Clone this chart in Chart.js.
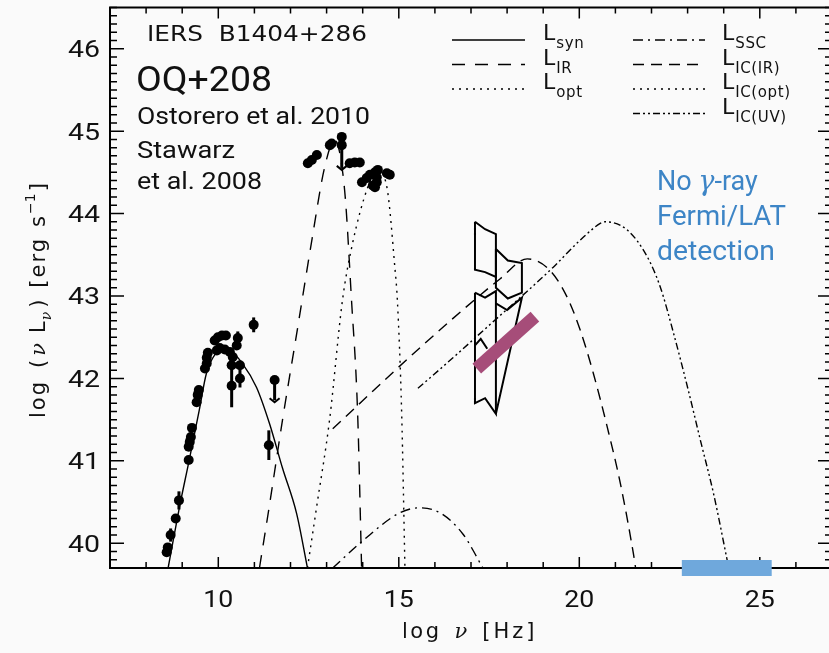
<!DOCTYPE html>
<html>
<head>
<meta charset="utf-8">
<script src="https://cdn.jsdelivr.net/npm/chart.js@4.4.1/dist/chart.umd.min.js"></script>
<style>
  html, body { margin: 0; padding: 0; background: #fafafa; overflow: hidden; width: 829px; height: 653px; }
</style>
</head>
<body>
<canvas id="sed" width="840" height="653"></canvas>
<script>
// observed photometry: log nu [Hz], log nuLnu [erg/s], error (0 = none)
var obsNu  = [8.57, 8.60, 8.68, 8.82, 8.91, 9.18, 9.18, 9.21, 9.24, 9.27, 9.40, 9.43, 9.46, 9.63, 9.68, 9.68, 9.71,
              9.90, 9.99, 10.10, 10.21, 9.96, 10.04, 10.18, 10.32, 10.40, 10.54, 10.51, 10.37, 10.37, 10.60, 10.60, 10.98, 11.40,
              12.48, 12.59, 12.73, 13.09, 13.14, 13.42, 13.64, 13.78, 13.92, 13.98, 14.11, 14.20, 14.34, 14.39, 14.39, 14.42,
              14.28, 14.34, 14.67, 14.75];
var obsLum = [39.89, 39.95, 40.10, 40.30, 40.52, 41.01, 41.17, 41.23, 41.29, 41.40, 41.71, 41.80, 41.86, 42.12, 42.18, 42.25, 42.31,
              42.46, 42.50, 42.52, 42.52, 42.34, 42.37, 42.35, 42.32, 42.26, 42.49, 42.40, 42.16, 41.91, 42.16, 42.00, 42.65, 41.19,
              44.61, 44.65, 44.71, 44.83, 44.85, 44.83, 44.61, 44.62, 44.62, 44.38, 44.43, 44.47, 44.50, 44.44, 44.38, 44.53,
              44.34, 44.32, 44.49, 44.47];
var obsErr = [0, 0, 0.08, 0, 0.11, 0, 0, 0, 0, 0, 0, 0, 0, 0, 0, 0, 0,
              0, 0, 0, 0, 0, 0, 0, 0, 0, 0.08, 0, 0, 0.26, 0, 0.11, 0.09, 0.18,
              0, 0, 0, 0, 0, 0, 0, 0, 0, 0.05, 0, 0, 0, 0, 0, 0,
              0, 0, 0, 0];

// upper limits (arrow runs from the value down to limEnd)
var limNu  = [13.42, 11.56];
var limLum = [44.93, 41.98];
var limEnd = [44.53, 41.71];

// model components
var synNu  = [8.61, 8.92, 9.19, 9.47, 9.67, 9.94, 10.10, 10.31, 10.67, 11.06, 11.42, 11.78, 12.17, 12.47];
var synLum = [39.70, 40.43, 41.00, 41.61, 42.06, 42.31, 42.35, 42.34, 42.18, 41.89, 41.45, 40.91, 40.36, 39.70];
var irNu   = [11.14, 11.42, 11.78, 12.20, 12.60, 12.94, 13.22, 13.50, 13.69, 13.86, 13.97];
var irLum  = [39.70, 40.47, 41.50, 42.62, 43.70, 44.55, 44.89, 44.28, 42.95, 41.57, 39.70];
var optNu  = [12.47, 12.72, 13.08, 13.44, 13.72, 14.14, 14.39, 14.67, 14.89, 14.96, 15.08, 15.17];
var optLum = [39.70, 40.43, 41.49, 42.95, 43.64, 44.32, 44.53, 44.32, 43.35, 42.95, 41.57, 39.70];
var sscNu  = [13.17, 14.00, 15.03, 15.58, 16.14, 16.78, 17.33];
var sscLum = [39.70, 40.03, 40.37, 40.43, 40.37, 40.11, 39.70];
var icirNu  = [13.17, 15.58, 17.81, 18.56, 19.19, 19.67, 20.03, 20.39, 20.78, 21.14, 21.50, 21.56];
var icirLum = [41.39, 42.37, 43.21, 43.45, 43.31, 42.98, 42.58, 42.06, 41.40, 40.72, 39.87, 39.70];
var icoptNu  = [];
var icoptLum = [];
var icuvNu  = [15.53, 16.50, 17.44, 18.36, 19.28, 20.03, 20.58, 20.72, 21.33, 21.89, 22.25, 22.61, 23.00, 23.36, 23.72, 24.14];
var icuvLum = [41.88, 42.25, 42.62, 42.98, 43.35, 43.68, 43.88, 43.90, 43.80, 43.47, 43.10, 42.55, 41.89, 41.24, 40.60, 39.70];

// X-ray butterflies (outlines, [log nu, log nuLnu])
var bowA = [[17.11, 43.90], [17.39, 43.81], [17.69, 43.75], [17.69, 43.23], [17.39, 43.29], [17.11, 43.32], [17.11, 43.90]];
var bowB = [[17.69, 43.57], [18.02, 43.43], [18.41, 43.40], [18.41, 43.04], [18.02, 42.97], [17.69, 43.10], [17.69, 43.57]];
var bowC = [[17.11, 43.04], [17.39, 42.98], [17.69, 43.06], [17.69, 41.57], [17.39, 41.76], [17.11, 41.70], [17.11, 43.04]];
var bowD = [[17.69, 42.91], [18.00, 42.83], [18.41, 42.98], [17.69, 41.57]];
var bowE = [[17.11, 42.40], [17.27, 42.48], [17.45, 42.36]];

// X-ray spectrum and the Fermi/LAT band
var xrayNu  = [17.16, 18.77];
var xrayLum = [42.12, 42.75];
var latNu   = [22.84, 25.33];
var latLum  = [39.70, 39.70];

// axes
var xTickVals = [10, 15, 20, 25];
var yTickVals = [40, 41, 42, 43, 44, 45, 46];

var hershey = '"DejaVu Sans", sans-serif';

function pts(xs, ys) {
  return xs.map(function (x, i) { return { x: x, y: ys[i] }; });
}
function poly(arr) {
  return arr.map(function (p) { return { x: p[0], y: p[1] }; });
}

function curve(label, xs, ys, dash) {
  return {
    label: label,
    data: pts(xs, ys),
    showLine: true,
    borderColor: '#000',
    borderWidth: 1.4,
    borderDash: dash,
    pointRadius: 0,
    cubicInterpolationMode: 'monotone',
    fill: false
  };
}
function outline(arr) {
  return {
    label: 'bowtie',
    data: poly(arr),
    showLine: true,
    borderColor: '#000',
    borderWidth: 2,
    pointRadius: 0,
    tension: 0,
    fill: false
  };
}

var dashes = {
  syn: [],
  IR: [13, 10],
  opt: [2, 5],
  SSC: [10, 5, 2, 5],
  'IC(IR)': [11, 7],
  'IC(opt)': [2, 5],
  'IC(UV)': [7, 3, 2, 3, 2, 3]
};

var datasets = [
  {
    label: 'xray',
    data: pts(xrayNu, xrayLum),
    showLine: true,
    borderColor: '#a64d79',
    borderWidth: 13,
    borderCapStyle: 'butt',
    pointRadius: 0
  },
  {
    label: 'lat',
    data: pts(latNu, latLum),
    showLine: true,
    borderColor: '#6fa8dc',
    borderWidth: 16,
    borderCapStyle: 'butt',
    pointRadius: 0,
    clip: false
  },
  {
    label: 'obs',
    data: pts(obsNu, obsLum),
    pointRadius: 5,
    pointBackgroundColor: '#000',
    pointBorderWidth: 0,
    showLine: false
  },
  {
    label: 'limits',
    data: pts(limNu, limLum),
    pointRadius: 5,
    pointBackgroundColor: '#000',
    pointBorderWidth: 0,
    showLine: false
  },
  curve('syn', synNu, synLum, dashes.syn),
  curve('IR', irNu, irLum, dashes.IR),
  curve('opt', optNu, optLum, dashes.opt),
  curve('SSC', sscNu, sscLum, dashes.SSC),
  curve('IC(IR)', icirNu, icirLum, dashes['IC(IR)']),
  curve('IC(opt)', icoptNu, icoptLum, dashes['IC(opt)']),
  curve('IC(UV)', icuvNu, icuvLum, dashes['IC(UV)']),
  outline(bowA),
  outline(bowB),
  outline(bowC),
  outline(bowD),
  outline(bowE)
];

// background
var paper = {
  id: 'paper',
  beforeDraw: function (chart) {
    var c = chart.ctx;
    c.save();
    c.fillStyle = '#fafafa';
    c.fillRect(0, 0, chart.width, chart.height);
    c.restore();
  }
};

// box with inward ticks on all four sides
var frame = {
  id: 'frame',
  beforeDatasetsDraw: function (chart) {
    var c = chart.ctx, a = chart.chartArea;
    var xs = chart.scales.x, ys = chart.scales.y;
    c.save();
    c.strokeStyle = '#000';
    c.lineWidth = 2;
    c.strokeRect(a.left, a.top, a.right - a.left, a.bottom - a.top);
    c.lineWidth = 1.5;
    c.beginPath();
    for (var v = 7; v <= 27; v++) {
      var px = xs.getPixelForValue(v);
      var len = (v % 5 === 0) ? 11 : 6;
      c.moveTo(px, a.bottom); c.lineTo(px, a.bottom - len);
      c.moveTo(px, a.top); c.lineTo(px, a.top + len);
    }
    for (var k = 397; k <= 465; k++) {
      var py = ys.getPixelForValue(k / 10);
      var l2 = (k % 10 === 0) ? 14 : 7;
      c.moveTo(a.left, py); c.lineTo(a.left + l2, py);
      c.moveTo(a.right, py); c.lineTo(a.right - l2, py);
    }
    c.stroke();
    c.restore();
  }
};

// error bars and upper-limit arrows
var errs = {
  id: 'errs',
  afterDatasetsDraw: function (chart) {
    var c = chart.ctx;
    var xs = chart.scales.x, ys = chart.scales.y;
    c.save();
    c.strokeStyle = '#000';
    c.lineWidth = 3;
    obsNu.forEach(function (nu, i) {
      if (!obsErr[i]) return;
      var px = xs.getPixelForValue(nu);
      c.beginPath();
      c.moveTo(px, ys.getPixelForValue(obsLum[i] + obsErr[i]));
      c.lineTo(px, ys.getPixelForValue(obsLum[i] - obsErr[i]));
      c.stroke();
    });
    limNu.forEach(function (nu, i) {
      var px = xs.getPixelForValue(nu);
      var top = ys.getPixelForValue(limLum[i]);
      var bot = ys.getPixelForValue(limEnd[i]);
      c.lineWidth = 3;
      c.beginPath();
      c.moveTo(px, top); c.lineTo(px, bot - 2);
      c.stroke();
      c.lineWidth = 2;
      c.beginPath();
      c.moveTo(px - 5, bot - 4); c.lineTo(px, bot); c.lineTo(px + 5, bot - 4);
      c.stroke();
    });
    c.restore();
  }
};

function label(c, s, x, y, font, spacing) {
  c.font = font;
  c.letterSpacing = spacing || '0px';
  c.fillText(s, x, y);
  var w = c.measureText(s).width;
  c.letterSpacing = '0px';
  return x + w;
}

// text squeezed or stretched horizontally to a given width
function fitLabel(c, s, x, y, font, width, align) {
  c.font = font;
  var w = c.measureText(s).width;
  var k = width / w;
  c.save();
  c.translate(x, y);
  c.scale(k, 1);
  c.textAlign = 'left';
  var dx = 0;
  if (align === 'center') dx = -w / 2;
  if (align === 'right') dx = -w;
  c.fillText(s, dx, 0);
  c.restore();
}

// legend, tick labels, annotations and axis titles
var notes = {
  id: 'notes',
  afterDraw: function (chart) {
    var c = chart.ctx;
    var xs = chart.scales.x, ys = chart.scales.y, a = chart.chartArea;
    c.save();
    c.fillStyle = '#111';
    c.textBaseline = 'alphabetic';
    c.textAlign = 'left';

    // tick labels
    xs.ticks.forEach(function (t) {
      fitLabel(c, String(t.value), xs.getPixelForValue(t.value), a.bottom + 39, '24px Roboto', 30, 'center');
    });
    ys.ticks.forEach(function (t) {
      fitLabel(c, String(t.value), a.left - 10, ys.getPixelForValue(t.value) + 8.5, '23px Roboto', 32, 'right');
    });

    fitLabel(c, 'IERS  B1404+286', 147, 41, '21px ' + hershey, 220);
    fitLabel(c, 'OQ+208', 136, 91, '35px Roboto', 136);
    fitLabel(c, 'Ostorero et al. 2010', 137, 124, '23px Roboto', 233);
    fitLabel(c, 'Stawarz', 137, 158, '23px Roboto', 98);
    fitLabel(c, 'et al. 2008', 137, 189, '23px Roboto', 125);

    // legend
    var order = [['syn', 'IR', 'opt'], ['SSC', 'IC(IR)', 'IC(opt)', 'IC(UV)']];
    var colX = [[452, 525, 543], [633, 705, 722]];
    order.forEach(function (col, ci) {
      col.forEach(function (name, ri) {
        var y = 40 + ri * 24.5;
        var ds = chart.data.datasets.find(function (d) { return d.label === name; });
        c.save();
        c.strokeStyle = '#000';
        c.lineWidth = 1.5;
        c.setLineDash(ds.borderDash || []);
        c.beginPath();
        c.moveTo(colX[ci][0], y);
        c.lineTo(colX[ci][1], y);
        c.stroke();
        c.restore();
        var lx = colX[ci][2];
        var e = label(c, 'L', lx, y, '22px ' + hershey);
        label(c, name, e + 1, y + 8, '15px ' + hershey, '0.6px');
      });
    });

    // Fermi note
    c.fillStyle = '#3d85c6';
    var e1 = label(c, 'No ', 657, 190, '27px Roboto');
    e1 = label(c, '\u03b3', e1, 190, 'italic 27px "DejaVu Serif", serif');
    label(c, '-ray', e1, 190, '27px Roboto');
    fitLabel(c, 'Fermi/LAT', 657, 225, '27px Roboto', 129);
    fitLabel(c, 'detection', 657, 260, '27px Roboto', 118);

    // x title
    c.fillStyle = '#111';
    var e2 = label(c, 'log', 402, 638, '21px ' + hershey, '2.5px');
    e2 = label(c, '\u03bd', e2 + 13, 638, 'italic 21px "DejaVu Serif", serif');
    label(c, '[Hz]', e2 + 15, 638, '21px ' + hershey, '3px');

    // y title, rotated
    c.save();
    c.translate(45, 418);
    c.rotate(-Math.PI / 2);
    var p = label(c, 'log', 0, 0, '21px ' + hershey, '2px');
    p = label(c, '(', p + 12, 0, '21px ' + hershey);
    p = label(c, '\u03bd', p + 4, 0, 'italic 21px "DejaVu Serif", serif');
    p = label(c, 'L', p + 10, 0, '21px ' + hershey);
    p = label(c, '\u03bd', p + 1, 6, 'italic 14px "DejaVu Serif", serif');
    p = label(c, ')', p + 4, 0, '21px ' + hershey);
    p = label(c, '[erg', p + 12, 0, '21px ' + hershey, '2px');
    p = label(c, 's', p + 10, 0, '21px ' + hershey);
    p = label(c, '\u22121', p + 2, -10, '14px ' + hershey);
    label(c, ']', p + 2, 0, '21px ' + hershey);
    c.restore();

    c.restore();
  }
};

new Chart(document.getElementById('sed'), {
  type: 'scatter',
  data: { datasets: datasets },
  options: {
    responsive: false,
    animation: false,
    layout: { padding: { top: 7.5, right: 8, left: 0, bottom: 0 } },
    plugins: {
      legend: { display: false },
      tooltip: { enabled: false }
    },
    scales: {
      x: {
        type: 'linear',
        min: 7,
        max: 27,
        grid: { display: false },
        border: { display: false },
        ticks: { display: false },
        afterBuildTicks: function (s) {
          s.ticks = xTickVals.map(function (v) { return { value: v }; });
        },
        afterFit: function (s) {
          s.height = 85;
          s.paddingLeft = 0;
          s.paddingRight = 0;
        }
      },
      y: {
        type: 'linear',
        min: 39.7,
        max: 46.5,
        grid: { display: false },
        border: { display: false },
        ticks: { display: false },
        afterBuildTicks: function (s) {
          s.ticks = yTickVals.map(function (v) { return { value: v }; });
        },
        afterFit: function (s) {
          s.width = 110;
          s.paddingTop = 0;
          s.paddingBottom = 0;
        }
      }
    }
  },
  plugins: [paper, frame, errs, notes]
});
</script>
</body>
</html>
